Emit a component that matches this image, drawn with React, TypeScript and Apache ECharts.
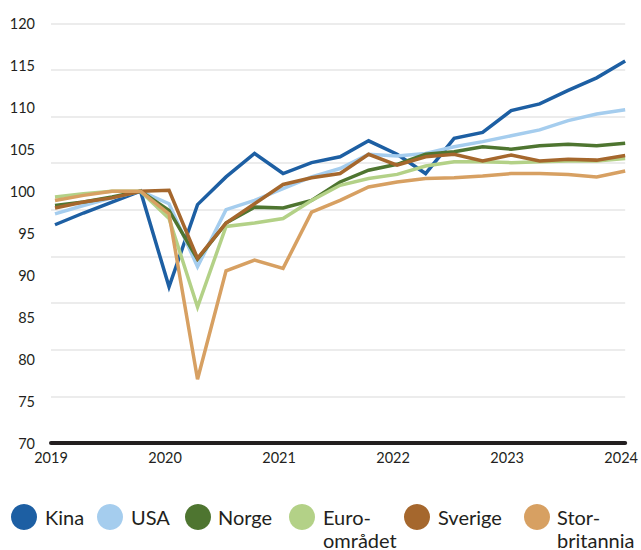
import React, { useEffect, useRef } from "react";
import * as echarts from "echarts";

// Quarterly index, 2019Q4 = 100. 2019Q1 .. 2024Q1 (21 quarters)
const quarters = [
  "2019K1", "2019K2", "2019K3", "2019K4",
  "2020K1", "2020K2", "2020K3", "2020K4",
  "2021K1", "2021K2", "2021K3", "2021K4",
  "2022K1", "2022K2", "2022K3", "2022K4",
  "2023K1", "2023K2", "2023K3", "2023K4",
  "2024K1",
];

const seriesNames = ["Kina", "USA", "Norge", "Euroområdet", "Sverige", "Storbritannia"];
const legendLines = [["Kina"], ["USA"], ["Norge"], ["Euro-", "området"], ["Sverige"], ["Stor-", "britannia"]];

const kina = [96.0, 97.4, 98.7, 100, 88.6, 98.4, 101.7, 104.5, 102.1, 103.4, 104.1, 106.0, 104.4, 102.1, 106.3, 107.0, 109.6, 110.4, 112.0, 113.5, 115.5];
const usa = [97.3, 98.3, 99.2, 100, 98.5, 91.0, 97.8, 98.9, 100.3, 101.7, 102.7, 104.4, 104.2, 104.5, 105.3, 105.9, 106.6, 107.3, 108.4, 109.2, 109.7];
const norge = [98.3, 98.7, 99.3, 100, 97.7, 91.9, 96.2, 98.1, 98.0, 98.9, 101.1, 102.5, 103.2, 104.4, 104.7, 105.3, 105.0, 105.4, 105.6, 105.4, 105.7];
const euro = [99.3, 99.7, 100.0, 100, 96.75, 86.2, 95.8, 96.2, 96.75, 98.9, 100.7, 101.5, 102.0, 103.0, 103.5, 103.5, 103.4, 103.5, 103.6, 103.6, 103.9];
const sverige = [98.0, 98.7, 99.2, 100, 100.1, 92.0, 96.2, 98.5, 100.8, 101.6, 102.1, 104.4, 103.1, 104.1, 104.4, 103.6, 104.3, 103.6, 103.8, 103.7, 104.25];
const storbritannia = [98.9, 99.5, 100.0, 100, 97.3, 77.6, 90.5, 91.8, 90.8, 97.5, 98.9, 100.5, 101.1, 101.5, 101.6, 101.8, 102.1, 102.1, 102.0, 101.7, 102.4];

const yearLabels = ["2019", "2020", "2021", "2022", "2023", "2024"];
const yTicks = [70, 75, 80, 85, 90, 95, 100, 105, 110, 115, 120];

const allValues = [kina, usa, norge, euro, sverige, storbritannia];
const colors = ["#1d5fa3", "#a5cdee", "#4e7530", "#b3d187", "#a5672d", "#d7a062"];

// layout (not data)
const legendCircleX = [24, 110, 198, 302, 417, 537];
const legendTextX = [45, 131, 218, 323, 438, 557];
const legendLineY = [516.5, 539.5];
const FONT = "Lato";

export default function App() {
  const ref = useRef<HTMLDivElement>(null);
  useEffect(() => {
    if (!ref.current) return;
    const chart = echarts.init(ref.current, undefined, { renderer: "svg" });
    const shift = -0.14;
    const option: any = {
      animation: false,
      backgroundColor: "#ffffff",
      grid: { left: 51, right: 14, top: 23.3, bottom: 107, containLabel: false },
      xAxis: {
        type: "value",
        min: shift,
        max: quarters.length - 1,
        axisLine: { show: true, lineStyle: { color: "#231f20", width: 4 } },
        axisTick: { show: false },
        splitLine: { show: false },
        axisLabel: {
          show: true,
          customValues: yearLabels.map((_, i) => i * 4 + shift),
          formatter: (v: number) => yearLabels[Math.round((v - shift) / 4)] ?? "",
          color: "#231f20",
          fontFamily: FONT,
          fontSize: 14.5,
          margin: 7,
          showMinLabel: true,
          showMaxLabel: true,
        },
      },
      yAxis: [
        {
          type: "value",
          min: yTicks[0],
          max: yTicks[yTicks.length - 1],
          interval: 5,
          axisLine: { show: false },
          axisTick: { show: false },
          splitLine: { show: false },
          axisLabel: {
            color: "#231f20",
            fontFamily: FONT,
            fontSize: 14.5,
            margin: 16,
            formatter: (v: number) => String(v),
          },
        },
        {
          type: "value",
          min: 0,
          max: 9,
          interval: 1,
          position: "left",
          axisLine: { show: false },
          axisTick: { show: false },
          axisLabel: { show: false },
          splitLine: { show: true, lineStyle: { color: "#e6e6e6", width: 1.5 } },
        },
      ],
      series: seriesNames.map((name, s) => ({
        name,
        type: "line",
        yAxisIndex: 0,
        data: allValues[s].map((v, i) => [i, v]),
        showSymbol: false,
        symbol: "none",
        lineStyle: { color: colors[s], width: 3.5, join: "miter" },
        itemStyle: { color: colors[s] },
        z: 3 + s,
      })),
      graphic: legendLines.flatMap((lines, s) => [
        {
          type: "circle",
          shape: { cx: legendCircleX[s], cy: 517, r: 13 },
          style: { fill: colors[s] },
        },
        ...lines.map((line, k) => ({
          type: "text",
          x: legendTextX[s],
          y: legendLineY[k],
          style: {
            text: line,
            fill: "#231f20",
            font: `20px ${FONT}`,
            verticalAlign: "middle",
            align: "left",
          },
        })),
      ]),
    };
    chart.setOption(option);
    return () => chart.dispose();
  }, []);
  return (
    <div
      ref={ref}
      style={{ position: "fixed", left: 0, top: 0, width: 641, height: 550 }}
    />
  );
}
